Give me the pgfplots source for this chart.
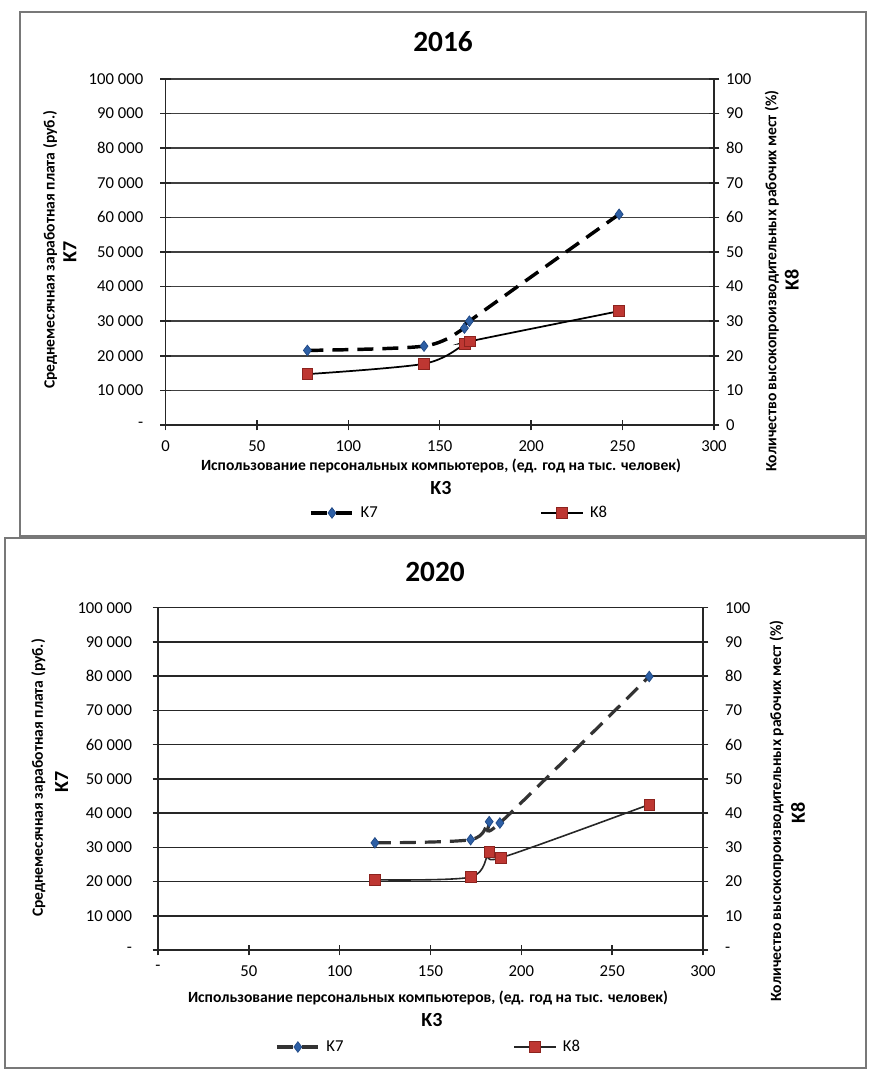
\documentclass[border=0pt]{standalone}
\usepackage{pgfplots}
\pgfplotsset{compat=1.18}
\usepackage{fontspec}
\setmainfont{Carlito}
\definecolor{kblue}{RGB}{45,95,165}
\definecolor{kbluedk}{RGB}{30,70,130}
\definecolor{kred}{RGB}{190,55,50}
\definecolor{kreddk}{RGB}{140,35,30}
\definecolor{frm}{RGB}{120,120,120}
\pgfplotsset{
  base/.style={scale only axis, anchor=south west, clip=false,
    scaled y ticks=false, scaled x ticks=false,
    tick label style={font=\fontsize{12.5}{14}\selectfont, /pgf/number format/assume math mode=true},
    axis line style={black!85, line width=1.1pt},
    major tick style={black!85, line width=1.1pt},
    tick align=center, major tick length=8pt,
    legend style={draw=none, fill=none, inner sep=0pt, font=\fontsize{12.5}{14}\selectfont, anchor=west,
      /tikz/every odd column/.append style={column sep=2.5pt}},
    legend image code/.code={\draw[##1, mark=none] (0pt,0pt) -- (31.5pt,0pt); \path[##1] plot coordinates {(15.75pt,0pt)};},
  },
}
\begin{document}
\begin{tikzpicture}
\path (0,0) rectangle (651pt,801.75pt);
% frames
\draw[frm, line width=1pt] (15pt,792.75pt) rectangle (649.5pt,399.75pt);
\draw[frm, line width=1pt] (3.75pt,398.25pt) rectangle (649.5pt,0.75pt);

% ===== 2016 =====
\begin{axis}[base, at={(124.125pt,483pt)}, width=411.375pt, height=259.5pt,
  xmin=0, xmax=300, ymin=0, ymax=100000,
  axis x line*=bottom, axis y line*=left,
  xtick={0,50,100,150,200,250,300}, xticklabels={0,50,100,150,200,250,300},
  ytick={0,10000,20000,30000,40000,50000,60000,70000,80000,90000,100000},
  yticklabels={-,10 000,20 000,30 000,40 000,50 000,60 000,70 000,80 000,90 000,100 000},
  ymajorgrids, major grid style={black!75, line width=1.1pt},
  yticklabel style={xshift=-9.2pt}, xticklabel style={yshift=-4pt},
  legend style={at={(0.2616,-0.2543)}},
]
\addplot[black, line width=2.6pt, dash pattern=on 12pt off 6.75pt, smooth, tension=0.5,
  mark=diamond*, mark size=4pt, mark options={solid, fill=kblue, draw=kbluedk, line width=0.5pt}]
  coordinates {(77.6,21550) (141.4,22800) (163.5,28000) (166.2,30000) (248.1,60900)};
\addlegendentry{K7}
\end{axis}
\begin{axis}[base, at={(124.125pt,483pt)}, width=411.375pt, height=259.5pt,
  xmin=0, xmax=300, ymin=0, ymax=100,
  axis x line=none, axis y line*=right,
  ytick={0,10,20,30,40,50,60,70,80,90,100},
  yticklabels={0,10,20,30,40,50,60,70,80,90,100},
  yticklabel style={xshift=1.5pt},
  legend style={at={(0.6828,-0.2543)}},
]
\addplot[black, line width=1.3pt, smooth, tension=0.5,
  mark=square*, mark size=4pt, mark options={fill=kred, draw=kreddk, line width=0.5pt}]
  coordinates {(77.6,14.7) (141.4,17.7) (163.8,23.4) (166.6,24.2) (248.1,32.9)};
\addlegendentry{K8}
\end{axis}

% ===== 2020 =====
\begin{axis}[base, at={(118.5pt,89.25pt)}, width=408.75pt, height=256.7pt,
  xmin=0, xmax=300, ymin=0, ymax=100000,
  axis x line*=bottom, axis y line*=left,
  xtick={0,50,100,150,200,250,300}, xticklabels={-,50,100,150,200,250,300},
  ytick={0,10000,20000,30000,40000,50000,60000,70000,80000,90000,100000},
  yticklabels={-,10 000,20 000,30 000,40 000,50 000,60 000,70 000,80 000,90 000,100 000},
  ymajorgrids, major grid style={black!85, line width=1.1pt},
  yticklabel style={xshift=-12pt}, xticklabel style={yshift=-4pt},
  legend style={at={(0.2147,-0.2834)}},
]
\addplot[black!80, line width=2.4pt, dash pattern=on 12pt off 6.75pt, smooth, tension=0.5,
  mark=diamond*, mark size=4pt, mark options={solid, fill=kblue, draw=kbluedk, line width=0.5pt}]
  coordinates {(119.4,31300) (172.1,32240) (182.3,37500) (188.2,37100) (270.4,79900)};
\addlegendentry{K7}
\end{axis}
\begin{axis}[base, at={(118.5pt,89.25pt)}, width=408.75pt, height=256.7pt,
  xmin=0, xmax=300, ymin=0, ymax=100,
  axis x line=none, axis y line*=right,
  ytick={0,10,20,30,40,50,60,70,80,90,100},
  yticklabels={-,10,20,30,40,50,60,70,80,90,100},
  yticklabel style={xshift=9pt},
  legend style={at={(0.6514,-0.2834)}},
]
\addplot[black!85, line width=1.2pt, smooth, tension=0.5,
  mark=square*, mark size=4pt, mark options={fill=kred, draw=kreddk, line width=0.5pt}]
  coordinates {(119.4,20.5) (172.1,21.3) (182.3,28.6) (188.6,26.9) (270.4,42.5)};
\addlegendentry{K8}
\end{axis}

% titles and labels
\node[font=\bfseries\fontsize{22}{26}\selectfont] at (332.25pt,770.25pt) {2016};
\node[font=\bfseries\fontsize{22}{26}\selectfont] at (326.25pt,372.75pt) {2020};

\node[rotate=90, font=\bfseries\fontsize{11.7}{13}\selectfont] at (37.5pt,614.25pt) {Среднемесячная заработная плата (руб.)};
\node[rotate=90, font=\bfseries\fontsize{15}{17}\selectfont] at (52.5pt,612.75pt) {K7};
\node[rotate=90, font=\bfseries\fontsize{11.7}{13}\selectfont] at (578.8pt,591pt) {Количество высокопроизводительных рабочих мест (\%)};
\node[rotate=90, font=\bfseries\fontsize{15}{17}\selectfont] at (593.8pt,591.75pt) {K8};
\node[font=\bfseries\fontsize{11.7}{13}\selectfont] at (330.75pt,452.25pt) {Использование персональных компьютеров, (ед. год на тыс. человек)};
\node[font=\bfseries\fontsize{15}{17}\selectfont] at (330.75pt,435.75pt) {K3};

\node[rotate=90, font=\bfseries\fontsize{11.7}{13}\selectfont] at (28.7pt,218.25pt) {Среднемесячная заработная плата (руб.)};
\node[rotate=90, font=\bfseries\fontsize{15}{17}\selectfont] at (46.3pt,215.25pt) {K7};
\node[rotate=90, font=\bfseries\fontsize{11.7}{13}\selectfont] at (582.5pt,193.5pt) {Количество высокопроизводительных рабочих мест (\%)};
\node[rotate=90, font=\bfseries\fontsize{15}{17}\selectfont] at (598.5pt,192pt) {K8};
\node[font=\bfseries\fontsize{11.7}{13}\selectfont] at (321pt,53.25pt) {Использование персональных компьютеров, (ед. год на тыс. человек)};
\node[font=\bfseries\fontsize{15}{17}\selectfont] at (324pt,36.75pt) {K3};
\end{tikzpicture}
\end{document}
